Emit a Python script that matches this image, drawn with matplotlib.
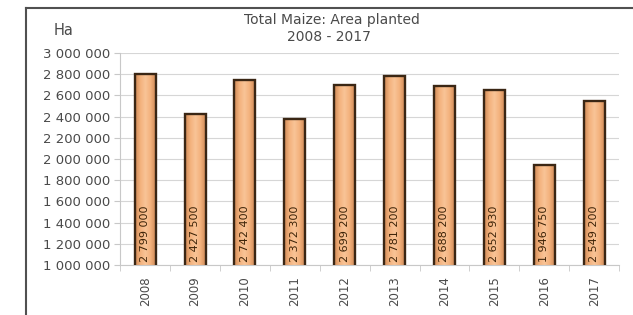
import numpy as np
import matplotlib.pyplot as plt
from matplotlib.lines import Line2D
from matplotlib.colors import LinearSegmentedColormap

# data
years = ['2008', '2009', '2010', '2011', '2012', '2013', '2014', '2015', '2016', '2017']
area = [2799000, 2427500, 2742400, 2372300, 2699200, 2781200, 2688200, 2652930, 1946750, 2549200]
bar_labels = ['2 799 000', '2 427 500', '2 742 400', '2 372 300', '2 699 200',
              '2 781 200', '2 688 200', '2 652 930', '1 946 750', '2 549 200']

txt = '#4a4a4a'
fig = plt.figure(figsize=(6.33, 3.15), dpi=100)
ax = fig.add_axes([0.190, 0.159, 0.788, 0.673])

x = np.arange(len(years))
ymin, ymax = 1000000, 3000000
bars = ax.bar(x, area, width=0.42, facecolor='none', edgecolor='#3a2614', linewidth=1.7, zorder=3)

# horizontal shading inside each bar
cmap = LinearSegmentedColormap.from_list('bar', ['#cf8a57', '#f3b17c', '#f9c497', '#f3b17c', '#cf8a57'])
grad = np.linspace(0, 1, 64).reshape(1, -1)
for b in bars:
    x0 = b.get_x()
    ax.imshow(grad, cmap=cmap, aspect='auto', zorder=2,
              extent=[x0, x0 + b.get_width(), ymin, b.get_height()])

for xi, lab in zip(x, bar_labels):
    ax.text(xi, ymin + 25000, lab, rotation=90, ha='center', va='bottom',
            fontsize=8, color='#3e2408', zorder=4)

ax.set_xlim(-0.5, len(years) - 0.5)
ax.set_ylim(ymin, ymax)
ax.set_yticks(np.arange(ymin, ymax + 1, 200000))
ax.set_yticklabels([f'{int(v):,}'.replace(',', ' ') for v in np.arange(ymin, ymax + 1, 200000)])
ax.set_xticks(x)
ax.set_xticklabels(years, rotation=90)
ax.set_xticks(np.arange(-0.5, len(years), 1), minor=True)
ax.tick_params(axis='x', which='major', length=0, pad=8, labelsize=8.5, labelcolor=txt)
ax.tick_params(axis='x', which='minor', length=4, color='#c8c8c8')
ax.tick_params(axis='y', length=4, color='#c8c8c8', labelsize=9.5, labelcolor=txt, pad=3)
ax.grid(axis='y', color='#d6d6d6', linewidth=0.8, zorder=0)
ax.set_axisbelow(True)
for s in ['top', 'right']:
    ax.spines[s].set_visible(False)
for s in ['left', 'bottom']:
    ax.spines[s].set_color('#c8c8c8')

fig.text(0.524, 0.935, 'Total Maize: Area planted', ha='center', va='center', fontsize=10, color=txt)
fig.text(0.519, 0.882, '2008 - 2017', ha='center', va='center', fontsize=10, color=txt)
fig.text(0.101, 0.902, 'Ha', ha='center', va='center', fontsize=10.5, color=txt)

# outer frame (left and top)
fig.add_artist(Line2D([0.041, 0.041], [0, 0.975], color='#505050', linewidth=1.5))
fig.add_artist(Line2D([0.041, 1], [0.975, 0.975], color='#505050', linewidth=1.5))

fig.savefig('out.png', dpi=100)
